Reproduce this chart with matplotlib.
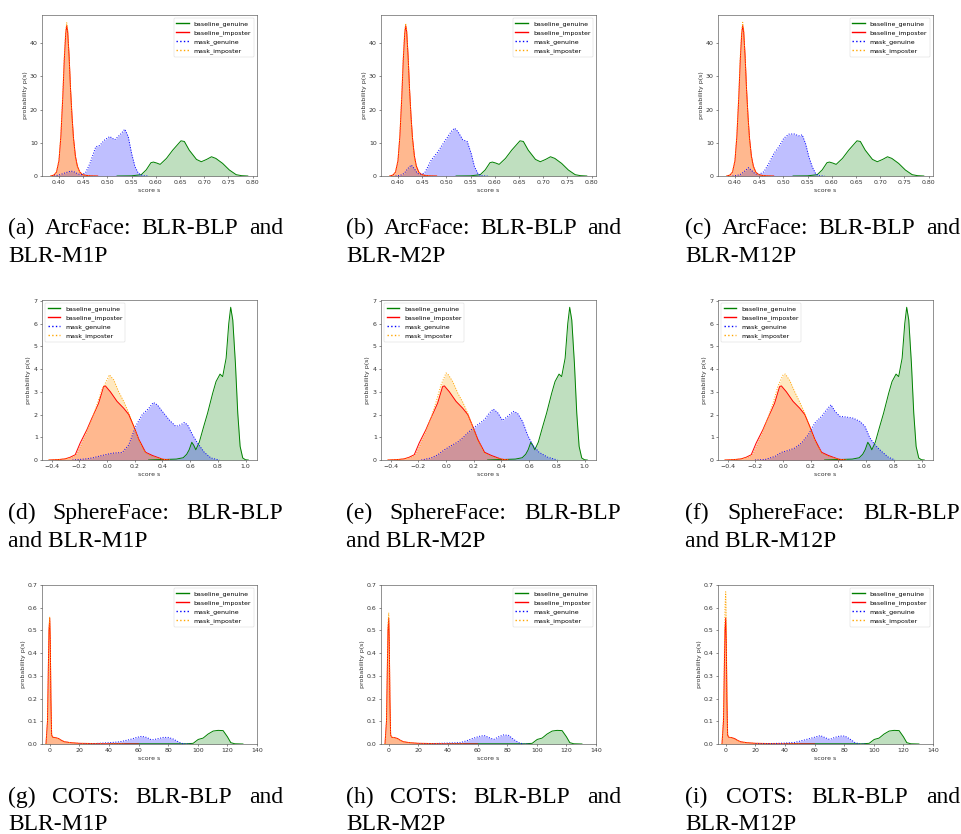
import numpy as np
import matplotlib
matplotlib.use("Agg")
import matplotlib.pyplot as plt
from matplotlib.ticker import FormatStrFormatter

# ---------------- data ----------------
# ArcFace row
arc_bg_x = [0.52, 0.55, 0.570, 0.580, 0.590, 0.595, 0.602, 0.609, 0.622, 0.635, 0.652, 0.659, 0.669,
            0.684, 0.694, 0.705, 0.715, 0.724, 0.738, 0.752, 0.766, 0.777, 0.790]
arc_bg_y = [0.0, 0.05, 0.4, 1.8, 4.0, 4.2, 3.9, 3.5, 5.3, 7.8, 10.6, 10.4, 7.8,
            5.0, 4.3, 5.0, 5.8, 5.3, 3.8, 1.8, 0.4, 0.1, 0.0]
arc_bi_x = [0.383, 0.390, 0.395, 0.400, 0.404, 0.408, 0.411, 0.414, 0.416, 0.418, 0.421,
            0.424, 0.427, 0.430, 0.434, 0.438, 0.443, 0.448, 0.455, 0.465, 0.480]
arc_bi_y = [0.0, 0.3, 1.2, 4.5, 12, 24, 35, 43, 45.3, 43.5, 36,
            26, 18, 11.5, 6, 3, 1.2, 0.5, 0.2, 0.05, 0.0]
arc_mi_y = [
    [0.0, 0.3, 1.3, 4.8, 12.5, 25, 36, 44, 46.2, 44, 36, 26, 17.5, 11, 5.5, 2.8, 1.1, 0.5, 0.2, 0.05, 0.0],
    [0.0, 0.3, 1.3, 4.7, 12.5, 25, 36, 44, 46.0, 44, 36, 26, 17.5, 11, 5.5, 2.8, 1.1, 0.5, 0.2, 0.05, 0.0],
    [0.0, 0.3, 1.3, 4.8, 12.6, 25, 36, 44, 46.3, 44, 36, 26, 17.5, 11, 5.5, 2.8, 1.1, 0.5, 0.2, 0.05, 0.0],
]
arc_mg_x = [
    [0.390, 0.400, 0.410, 0.418, 0.425, 0.432, 0.440, 0.447, 0.455, 0.464, 0.476, 0.484, 0.4945,
     0.505, 0.515, 0.526, 0.536, 0.543, 0.550, 0.557, 0.564, 0.574, 0.585],
    [0.395, 0.405, 0.413, 0.420, 0.4275, 0.434, 0.440, 0.447, 0.455, 0.4687, 0.4825, 0.4962, 0.510,
     0.5168, 0.5237, 0.534, 0.543, 0.5512, 0.558, 0.565, 0.572, 0.585],
    [0.395, 0.405, 0.413, 0.421, 0.428, 0.435, 0.442, 0.450, 0.4598, 0.470, 0.4804, 0.4907, 0.501,
     0.5113, 0.5216, 0.532, 0.5388, 0.5457, 0.5526, 0.5595, 0.5663, 0.573, 0.585],
]
arc_mg_y = [
    [0.0, 0.3, 0.8, 1.2, 1.5, 1.2, 0.6, 0.4, 1.0, 3.8, 8.8, 9.2, 10.9,
     11.9, 10.9, 12.4, 14.1, 11.9, 6.8, 2.8, 0.8, 0.1, 0.0],
    [0.0, 0.2, 0.8, 2.2, 3.3, 2.2, 0.8, 0.5, 0.9, 4.8, 7.3, 10.4, 13.4,
     14.4, 13.4, 10.9, 10.4, 6.8, 2.8, 0.8, 0.1, 0.0],
    [0.0, 0.2, 0.6, 1.6, 2.5, 1.6, 0.6, 0.5, 1.3, 3.8, 6.8, 8.8, 11.4,
     12.6, 12.7, 12.1, 12.4, 9.8, 5.8, 2.8, 0.8, 0.1, 0.0],
]

# SphereFace row
sph_bg_x = [0.30, 0.40, 0.50, 0.55, 0.575, 0.593, 0.612, 0.626, 0.641, 0.666, 0.695, 0.726, 0.763,
            0.787, 0.816, 0.835, 0.860, 0.879, 0.893, 0.908, 0.927, 0.944, 0.961, 0.980, 1.00, 1.02]
sph_bg_y = [0.0, 0.02, 0.04, 0.1, 0.25, 0.45, 0.78, 0.65, 0.45, 0.78, 1.41, 2.06, 2.94,
            3.45, 3.78, 3.67, 4.48, 6.0, 6.72, 6.16, 4.26, 2.06, 0.6, 0.09, 0.01, 0.0]
sph_bi_x = [-0.42, -0.35, -0.303, -0.267, -0.23, -0.194, -0.146, -0.109, -0.061, -0.025, -0.012,
            0.024, 0.072, 0.12, 0.157, 0.193, 0.23, 0.278, 0.327, 0.363, 0.399, 0.45]
sph_bi_y = [0.0, 0.02, 0.05, 0.12, 0.23, 0.75, 1.33, 1.85, 2.5, 3.23, 3.26,
            3.0, 2.58, 2.28, 2.0, 1.48, 0.9, 0.34, 0.2, 0.12, 0.04, 0.0]
sph_mi_x = [-0.42, -0.35, -0.30, -0.26, -0.22, -0.19, -0.146, -0.109, -0.075, -0.037, 0.0, 0.0165,
            0.048, 0.084, 0.12, 0.157, 0.193, 0.23, 0.278, 0.327, 0.37, 0.42, 0.46]
sph_mi_y = [
    [0.0, 0.02, 0.05, 0.1, 0.22, 0.6, 1.25, 1.8, 2.4, 3.1, 3.53, 3.75,
     3.53, 3.0, 2.58, 2.07, 1.48, 0.85, 0.3, 0.15, 0.08, 0.02, 0.0],
    [0.0, 0.02, 0.05, 0.1, 0.22, 0.6, 1.25, 1.85, 2.5, 3.3, 3.83, 3.75,
     3.45, 2.95, 2.55, 2.05, 1.45, 0.85, 0.3, 0.15, 0.08, 0.02, 0.0],
    [0.0, 0.02, 0.05, 0.1, 0.22, 0.6, 1.25, 1.85, 2.45, 3.25, 3.75, 3.78,
     3.5, 3.0, 2.55, 2.05, 1.45, 0.85, 0.3, 0.15, 0.08, 0.02, 0.0],
]
sph_mg_x = [
    [-0.25, -0.15, -0.10, -0.05, 0.0, 0.036, 0.109, 0.157, 0.206, 0.254, 0.302, 0.334,
     0.363, 0.399, 0.448, 0.496, 0.533, 0.557, 0.581, 0.617, 0.653, 0.702, 0.75, 0.811],
    [-0.179, -0.107, -0.06, -0.0115, 0.036, 0.084, 0.132, 0.18, 0.228, 0.276, 0.312, 0.341,
     0.372, 0.408, 0.444, 0.487, 0.516, 0.552, 0.588, 0.624, 0.672, 0.732, 0.804],
    [-0.203, -0.131, -0.058, -0.01, 0.038, 0.086, 0.134, 0.182, 0.23, 0.278, 0.314, 0.346,
     0.375, 0.411, 0.459, 0.507, 0.555, 0.591, 0.627, 0.663, 0.711, 0.759, 0.808],
]
sph_mg_y = [
    [0.0, 0.05, 0.1, 0.18, 0.25, 0.3, 0.33, 0.67, 1.48, 2.0, 2.28, 2.53,
     2.43, 2.14, 1.77, 1.48, 1.55, 1.65, 1.55, 1.11, 0.75, 0.34, 0.09, 0.0],
    [0.0, 0.09, 0.23, 0.45, 0.63, 0.79, 1.04, 1.33, 1.55, 1.77, 2.06, 2.24,
     2.09, 1.74, 1.92, 2.14, 2.06, 1.7, 1.11, 0.67, 0.34, 0.13, 0.0],
    [0.0, 0.02, 0.16, 0.34, 0.42, 0.53, 0.75, 1.11, 1.63, 1.92, 2.21, 2.43,
     2.14, 1.92, 1.89, 1.84, 1.7, 1.48, 0.97, 0.67, 0.38, 0.13, 0.0],
]

# COTS row
cots_bg_x = [40, 60, 80, 92.4, 96.9, 100.3, 103.6, 107, 110.4, 113.7, 117.1, 120, 122.3, 125, 130.5]
cots_bg_y = [0.0, 0.001, 0.001, 0.001, 0.003, 0.02, 0.026, 0.044, 0.057, 0.06, 0.059, 0.032, 0.006, 0.001, 0.0]
cots_bi_x = [-2.5, -1.5, -1.0, -0.5, 0.0, 0.4, 0.8, 1.3, 2.0, 4.0, 6.0, 8.0, 10.0, 14.0, 20.0, 30.0, 40.0, 50.0, 60.0]
cots_bi_y = [0.0, 0.1, 0.3, 0.5, 0.555, 0.45, 0.2, 0.04, 0.03, 0.028, 0.024, 0.016, 0.01, 0.006,
             0.003, 0.002, 0.001, 0.0005, 0.0]
cots_mi_x = [-2.5, -1.5, -1.0, -0.5, 0.0, 0.4, 0.8, 1.3, 2.0, 4.0, 6.0, 8.0, 10.0, 14.0, 20.0, 30.0, 40.0, 50.0]
cots_mi_y = [
    [0.0, 0.1, 0.3, 0.5, 0.56, 0.45, 0.2, 0.04, 0.03, 0.027, 0.023, 0.015, 0.01, 0.006, 0.003, 0.002, 0.001, 0.0],
    [0.0, 0.1, 0.32, 0.52, 0.578, 0.46, 0.2, 0.04, 0.03, 0.027, 0.023, 0.015, 0.01, 0.006, 0.003, 0.002, 0.001, 0.0],
    [0.0, 0.12, 0.36, 0.6, 0.67, 0.5, 0.22, 0.04, 0.03, 0.027, 0.023, 0.015, 0.01, 0.006, 0.003, 0.002, 0.001, 0.0],
]
cots_mg_x = [
    [20, 30, 40.8, 47.6, 54.3, 58.8, 62.1, 65.5, 68.9, 72.2, 76.7, 80.1, 83.4, 86.8, 89.0, 92.4, 95],
    [20, 30, 39.4, 48.4, 52.9, 57.4, 61.9, 64.6, 67.5, 70.9, 74.3, 77.6, 81.0, 84.4, 87.8, 91.2, 95],
    [20, 30, 39.8, 46.6, 53.3, 57.8, 61.2, 63.9, 66.8, 70.2, 73.6, 77.0, 80.4, 83.7, 87.1, 90.5, 95],
]
cots_mg_y = [
    [0.0, 0.002, 0.006, 0.01, 0.02, 0.029, 0.034, 0.029, 0.018, 0.022, 0.029, 0.029, 0.022, 0.01, 0.003, 0.0, 0.0],
    [0.0, 0.002, 0.004, 0.006, 0.015, 0.026, 0.035, 0.037, 0.029, 0.02, 0.032, 0.04, 0.038, 0.02, 0.006, 0.0, 0.0],
    [0.0, 0.002, 0.004, 0.007, 0.018, 0.026, 0.032, 0.037, 0.029, 0.02, 0.029, 0.035, 0.035, 0.023, 0.007, 0.0, 0.0],
]

captions = [
    [("(a) ArcFace: BLR-BLP and", "BLR-M1P"), ("(b) ArcFace: BLR-BLP and", "BLR-M2P"),
     ("(c) ArcFace: BLR-BLP and", "BLR-M12P")],
    [("(d) SphereFace: BLR-BLP", "and BLR-M1P"), ("(e) SphereFace: BLR-BLP", "and BLR-M2P"),
     ("(f) SphereFace: BLR-BLP", "and BLR-M12P")],
    [("(g) COTS: BLR-BLP and", "BLR-M1P"), ("(h) COTS: BLR-BLP and", "BLR-M2P"),
     ("(i) COTS: BLR-BLP and", "BLR-M12P")],
]
labels = ["baseline_genuine", "baseline_imposter", "mask_genuine", "mask_imposter"]

# ---------------- layout ----------------
W, H = 961, 834
fig = plt.figure(figsize=(W / 100, H / 100), dpi=100)

col_lr = [(42, 257), (381, 596), (718, 933)]
row_tb = [(15, 176), (300, 460), (585, 744)]
cap_x = [8, 346, 685]
cap_w = 275
cap_base = [(234, 262), (519, 547), (803, 830)]

fs = 4.5
lw = 0.7

row_xlim = [(0.365, 0.809), (-0.47, 1.083), (-5.2, 140)]
row_ylim = [(0, 48.5), (0, 7.04), (0, 0.7)]
row_xticks = [np.arange(0.40, 0.801, 0.05), np.arange(-0.4, 1.01, 0.2), np.arange(0, 141, 20)]
row_yticks = [[0, 10, 20, 30, 40], [0, 1, 2, 3, 4, 5, 6, 7], np.arange(0, 0.71, 0.1)]
row_legloc = ["upper right", "upper left", "upper right"]


def curves_for(r, c):
    if r == 0:
        return [(arc_bg_x, arc_bg_y), (arc_bi_x, arc_bi_y),
                (arc_mg_x[c], arc_mg_y[c]), (arc_bi_x, arc_mi_y[c])]
    if r == 1:
        return [(sph_bg_x, sph_bg_y), (sph_bi_x, sph_bi_y),
                (sph_mg_x[c], sph_mg_y[c]), (sph_mi_x, sph_mi_y[c])]
    return [(cots_bg_x, cots_bg_y), (cots_bi_x, cots_bi_y),
            (cots_mg_x[c], cots_mg_y[c]), (cots_mi_x, cots_mi_y[c])]


colors = ["green", "red", "blue", "orange"]
styles = ["-", "-", ":", ":"]

for r in range(3):
    for c in range(3):
        l, rr = col_lr[c]
        t, b = row_tb[r]
        ax = fig.add_axes([l / W, 1 - b / H, (rr - l) / W, (b - t) / H])
        for (xs, ys), col, ls, lab in zip(curves_for(r, c), colors, styles, labels):
            ax.plot(xs, ys, color=col, ls=ls, lw=lw, label=lab)
            ax.fill_between(xs, 0, ys, color=col, alpha=0.25, lw=0)
        ax.set_xlim(row_xlim[r])
        ax.set_ylim(row_ylim[r])
        ax.set_xticks(row_xticks[r])
        ax.set_yticks(row_yticks[r])
        if r == 0:
            ax.xaxis.set_major_formatter(FormatStrFormatter("%.2f"))
        if r == 2:
            ax.yaxis.set_major_formatter(FormatStrFormatter("%.1f"))
        ax.tick_params(labelsize=fs, length=1.5, width=0.4, pad=1.5, colors="#333333")
        for sp in ax.spines.values():
            sp.set_linewidth(0.45)
            sp.set_color("#555555")
        ax.set_xlabel("score s", fontsize=fs, labelpad=1.7, color="#333333")
        ax.set_ylabel("probability p(s)", fontsize=fs, labelpad=1.7, color="#333333")
        leg = ax.legend(loc=row_legloc[r], fontsize=fs, frameon=True, borderpad=0.4,
                        handlelength=2.0, labelspacing=0.5, borderaxespad=0.5)
        leg.get_frame().set_linewidth(0.35)
        for hl in leg.get_lines():
            hl.set_linewidth(1.0)

# ---------------- captions (first line justified) ----------------
renderer = fig.canvas.get_renderer()
cap_font = dict(family="Liberation Serif", size=17)
for r in range(3):
    for c in range(3):
        line1, line2 = captions[r][c]
        y1, y2 = cap_base[r]
        x0 = cap_x[c]
        words = line1.split(" ")
        objs = [fig.text(0, 1 - y1 / H, w, va="baseline", ha="left", **cap_font) for w in words]
        widths = [o.get_window_extent(renderer).width for o in objs]
        gap = (cap_w - sum(widths)) / (len(words) - 1)
        pos = x0
        for o, wd in zip(objs, widths):
            o.set_x(pos / W)
            pos += wd + gap
        fig.text(x0 / W, 1 - y2 / H, line2, va="baseline", ha="left", **cap_font)

fig.savefig("out.png", dpi=100)
